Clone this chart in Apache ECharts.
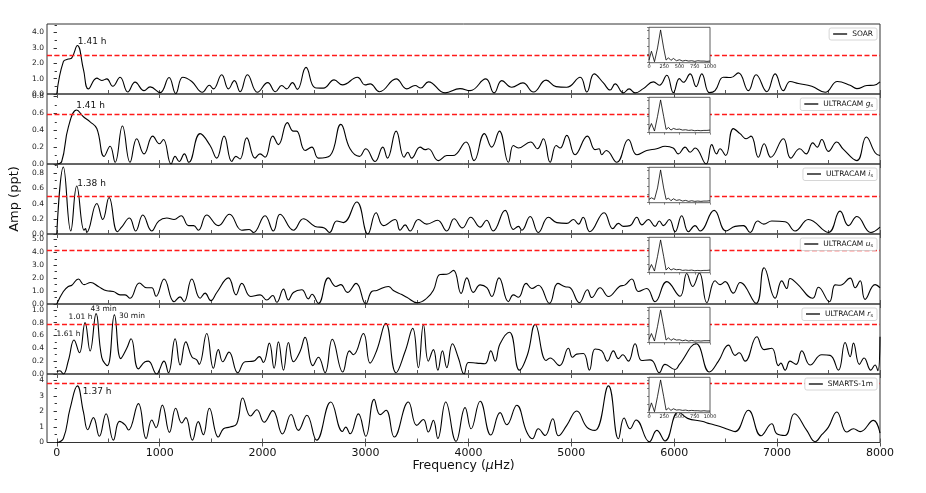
<!DOCTYPE html>
<html><head><meta charset="utf-8">
<script src="https://cdn.jsdelivr.net/npm/echarts@6/dist/echarts.min.js"></script>
<style>html,body{margin:0;padding:0;background:#fff}#c{width:926px;height:493px}</style>
</head><body><div id="c"></div>
<script>
// ---- data (frequency µHz, amplitude ppt) ----
const soar = [[0,0],[64,2.1],[113,2.27],[146,2.35],[200,3.15],[259,1.6],[307,0.33],[389,1.03],[437,0.88],[486,0.98],[544,0.5],[615,1.09],[690,0.13],[761,0.77],[848,0.22],[907,0.46],[1004,0.09],[1091,1.07],[1156,0.03],[1224,1.09],[1312,0.81],[1415,0.11],[1483,0.57],[1522,0.33],[1603,1.25],[1668,0.33],[1726,0.87],[1782,0.15],[1853,1.25],[1950,0.11],[2050,0.74],[2125,0.15],[2186,0.55],[2235,0.33],[2290,0.74],[2338,0.3],[2422,1.73],[2510,0.41],[2591,0.38],[2695,0.92],[2776,0.59],[2922,1.09],[2996,0.59],[3045,0.66],[3136,0.15],[3298,0.98],[3401,0.33],[3482,0.55],[3537,0.39],[3612,0.79],[3774,0.07],[3919,0.35],[4016,0.22],[4169,0.98],[4250,0.07],[4325,0.87],[4422,0.44],[4529,0.72],[4632,0.13],[4755,0.9],[4852,0.48],[4956,0.44],[5086,1.09],[5151,0.13],[5222,1.31],[5312,0.72],[5377,0.26],[5426,0.66],[5507,0.07],[5562,0.33],[5620,0.07],[5700,0.35],[5798,0.79],[5856,0.57],[5928,1.22],[5992,0.09],[6050,1.0],[6089,0.76],[6155,1.31],[6213,0.48],[6268,1.31],[6342,0.09],[6397,0.22],[6478,1.09],[6550,1.07],[6624,1.37],[6721,0.22],[6796,1.25],[6900,0.15],[6981,1.31],[7061,0.22],[7126,0.81],[7207,0.68],[7337,0.5],[7467,0.11],[7586,0.81],[7710,0.57],[7775,0.35],[7872,0.55],[7940,0.57],[8000,0.79]];
const ucamG = [[0,0],[48,0.03],[113,0.44],[194,0.64],[259,0.56],[324,0.5],[389,0.42],[460,0.09],[518,0.21],[567,0.02],[638,0.45],[712,0.02],[777,0.3],[848,0.12],[933,0.33],[997,0.24],[1036,0.29],[1111,0.0],[1150,0.09],[1189,0.03],[1240,0.12],[1283,0.02],[1393,0.36],[1490,0.22],[1554,0.07],[1626,0.33],[1701,0.03],[1740,0.09],[1780,0.06],[1846,0.31],[1927,0.07],[1975,0.12],[2024,0.08],[2099,0.33],[2154,0.23],[2241,0.49],[2299,0.39],[2330,0.39],[2413,0.16],[2478,0.2],[2543,0.07],[2656,0.1],[2760,0.47],[2850,0.18],[2941,0.09],[3003,0.18],[3093,0.03],[3168,0.2],[3213,0.07],[3298,0.39],[3375,0.08],[3411,0.14],[3448,0.07],[3531,0.2],[3580,0.17],[3610,0.18],[3709,0.04],[3790,0.1],[3850,0.1],[3978,0.26],[4055,0.04],[4156,0.36],[4227,0.2],[4301,0.39],[4389,0.02],[4437,0.22],[4486,0.19],[4605,0.26],[4670,0.18],[4729,0.3],[4794,0.02],[4853,0.22],[4892,0.19],[4956,0.34],[5037,0.11],[5157,0.33],[5231,0.17],[5270,0.18],[5295,0.11],[5340,0.16],[5442,0.02],[5555,0.29],[5636,0.11],[5733,0.16],[5830,0.18],[5911,0.21],[5990,0.19],[6041,0.12],[6106,0.2],[6155,0.14],[6203,0.19],[6310,0.0],[6365,0.23],[6412,0.12],[6445,0.18],[6500,0.1],[6575,0.42],[6640,0.36],[6700,0.3],[6747,0.33],[6818,0.08],[6874,0.24],[6939,0.08],[7061,0.3],[7132,0.07],[7220,0.18],[7282,0.12],[7347,0.25],[7390,0.2],[7434,0.29],[7499,0.15],[7580,0.26],[7640,0.18],[7775,0.04],[7867,0.32],[7955,0.13],[8000,0.1]];
const ucamI = [[0,0],[64,0.88],[136,0.04],[194,0.63],[265,0.05],[280,0.07],[291,0.02],[389,0.4],[447,0.19],[508,0.48],[589,0.03],[630,0.09],[706,0.21],[767,0.04],[836,0.25],[923,0.04],[990,0.17],[1069,0.21],[1140,0.19],[1208,0.24],[1281,0.11],[1330,0.11],[1376,0.05],[1457,0.25],[1570,0.11],[1678,0.26],[1797,0.05],[1870,0.06],[1911,0.02],[2024,0.24],[2105,0.04],[2170,0.26],[2300,0.05],[2397,0.2],[2510,0.1],[2600,0.08],[2650,0.02],[2721,0.17],[2785,0.15],[2915,0.42],[3023,0.0],[3103,0.28],[3174,0.11],[3288,0.19],[3336,0.05],[3385,0.12],[3433,0.04],[3514,0.19],[3595,0.13],[3700,0.18],[3790,0.04],[3861,0.2],[3942,0.08],[4023,0.22],[4114,0.09],[4176,0.18],[4240,0.04],[4357,0.31],[4438,0.06],[4486,0.1],[4519,0.05],[4600,0.23],[4680,0.02],[4778,0.22],[4859,0.15],[4956,0.14],[5021,0.19],[5070,0.13],[5115,0.22],[5180,0.03],[5319,0.28],[5403,0.07],[5458,0.14],[5507,0.1],[5571,0.11],[5636,0.22],[5685,0.12],[5749,0.19],[5814,0.1],[5856,0.17],[5895,0.11],[5953,0.19],[6009,0.03],[6073,0.24],[6138,0.03],[6203,0.11],[6252,0.04],[6388,0.31],[6504,0.04],[6592,0.1],[6673,0.11],[6738,0.02],[6811,0.17],[6870,0.13],[6948,0.17],[7078,0.16],[7175,0.04],[7304,0.19],[7498,0.02],[7612,0.3],[7694,0.11],[7775,0.23],[7911,0.02],[8000,0.09]];
const ucamU = [[0,0],[64,0.97],[113,1.36],[146,1.45],[210,1.94],[265,1.5],[330,1.66],[404,1.36],[486,1.02],[550,0.97],[615,0.71],[664,0.71],[712,0.45],[803,1.63],[875,1.26],[923,1.26],[965,0.6],[1043,1.94],[1140,0.18],[1198,0.55],[1237,0.18],[1312,1.94],[1393,0.45],[1441,0.84],[1497,0.26],[1555,0.89],[1668,2.02],[1742,0.71],[1798,1.6],[1885,0.58],[1976,0.71],[2040,0.31],[2099,0.66],[2138,0.13],[2203,1.15],[2251,0.31],[2299,0.89],[2381,1.1],[2445,0.4],[2480,0.75],[2543,0.05],[2640,2.02],[2714,1.36],[2760,1.5],[2824,0.9],[2909,1.6],[3003,0.0],[3061,0.97],[3110,1.05],[3223,1.36],[3271,1.05],[3353,0.73],[3401,0.52],[3504,0.1],[3596,0.45],[3660,1.07],[3725,2.28],[3790,2.3],[3855,2.6],[3929,0.82],[3985,2.02],[4049,0.9],[4114,1.48],[4179,1.26],[4227,0.58],[4298,2.02],[4389,0.18],[4437,0.71],[4486,0.52],[4561,1.6],[4616,1.2],[4680,1.45],[4788,0.05],[4869,1.6],[4940,1.34],[4982,1.3],[5079,0.1],[5157,1.1],[5199,0.5],[5280,1.26],[5361,0.58],[5468,1.36],[5523,1.48],[5588,1.94],[5652,0.97],[5733,1.2],[5814,0.18],[5928,1.73],[6057,0.6],[6122,2.36],[6180,1.36],[6245,2.4],[6317,0.1],[6397,1.8],[6446,1.5],[6495,1.73],[6575,0.84],[6641,1.66],[6796,0.05],[6874,2.81],[6981,0.45],[7045,1.79],[7094,1.2],[7126,1.97],[7191,1.6],[7347,0.45],[7402,1.3],[7508,0.18],[7564,1.48],[7612,1.45],[7710,2.0],[7759,1.26],[7807,1.8],[7855,0.36],[7952,1.5],[8000,1.26]];
const ucamR = [[0,0.04],[30,0.05],[64,0.0],[113,0.21],[168,0.53],[220,0.33],[275,0.8],[324,0.36],[382,0.94],[437,0.26],[492,0.13],[560,0.92],[622,0.24],[680,0.4],[722,0.55],[793,0.08],[858,0.19],[890,0.2],[972,0.0],[988,0.03],[1043,0.2],[1085,0.02],[1150,0.55],[1199,0.14],[1254,0.5],[1312,0.27],[1360,0.22],[1384,0.15],[1457,0.63],[1522,0.09],[1570,0.38],[1613,0.19],[1674,0.34],[1759,0.02],[1830,0.19],[1911,0.2],[1969,0.27],[2008,0.18],[2066,0.48],[2112,0.09],[2154,0.5],[2203,0.06],[2251,0.49],[2300,0.19],[2364,0.35],[2413,0.57],[2488,0.13],[2543,0.26],[2607,0.02],[2678,0.54],[2779,0.03],[2844,0.36],[2883,0.3],[2980,0.63],[3045,0.17],[3110,0.37],[3197,0.79],[3297,0.02],[3385,0.35],[3459,0.71],[3514,0.1],[3563,0.77],[3611,0.2],[3660,0.38],[3703,0.06],[3748,0.36],[3790,0.1],[3845,0.47],[3903,0.25],[3958,0.0],[4000,0.18],[4081,0.17],[4162,0.16],[4218,0.36],[4260,0.2],[4308,0.47],[4399,0.65],[4496,0.06],[4574,0.3],[4649,0.77],[4755,0.21],[4794,0.25],[4885,0.13],[4972,0.4],[5011,0.26],[5053,0.31],[5118,0.32],[5176,0.06],[5231,0.39],[5296,0.36],[5351,0.2],[5409,0.36],[5458,0.24],[5500,0.3],[5555,0.2],[5620,0.47],[5685,0.21],[5766,0.22],[5798,0.19],[5856,0.02],[5911,0.15],[6009,0.07],[6051,0.15],[6213,0.47],[6342,0.03],[6430,0.2],[6527,0.45],[6592,0.29],[6631,0.33],[6689,0.2],[6803,0.58],[6874,0.38],[6948,0.4],[7013,0.13],[7036,0.17],[7078,0.06],[7126,0.2],[7185,0.15],[7240,0.36],[7321,0.14],[7434,0.3],[7515,0.29],[7596,0.06],[7661,0.49],[7710,0.27],[7742,0.48],[7800,0.15],[7845,0.25],[7911,0.06],[7952,0.14],[7979,0.05],[8000,0.58]];
const smarts = [[0,0],[64,0.26],[129,2.17],[200,3.64],[259,1.96],[301,0.82],[356,1.6],[414,0.4],[479,1.85],[550,0.15],[609,1.36],[664,1.13],[697,0.8],[793,2.5],[868,0.26],[923,1.45],[965,0.95],[1026,2.4],[1095,0.65],[1156,2.2],[1215,1.25],[1254,1.6],[1318,0.15],[1375,1.34],[1424,0.5],[1483,2.2],[1570,0.35],[1620,0.88],[1684,0.99],[1749,1.2],[1807,2.86],[1883,1.7],[1944,2.1],[2015,1.3],[2099,2.05],[2193,0.55],[2277,1.8],[2348,0.78],[2430,1.75],[2525,0.15],[2663,2.6],[2776,0.71],[2808,0.99],[2850,0.56],[2931,1.84],[3003,0.4],[3084,2.77],[3142,1.79],[3200,2.07],[3280,0.35],[3417,2.6],[3498,1.1],[3563,1.48],[3611,0.67],[3660,1.42],[3703,0.26],[3780,2.6],[3880,0.08],[3968,2.24],[4026,0.88],[4114,2.65],[4218,0.48],[4308,1.92],[4373,1.14],[4470,2.39],[4567,0.67],[4622,0.24],[4680,0.88],[4746,0.45],[4820,1.53],[4875,0.43],[4956,1.1],[5053,2.02],[5151,0.99],[5231,0.78],[5361,3.64],[5458,0.24],[5513,1.57],[5571,0.88],[5630,1.45],[5759,0.05],[5831,0.78],[5911,0.1],[6041,1.96],[6130,1.55],[6268,1.36],[6349,1.2],[6446,1.03],[6520,0.85],[6592,0.7],[6721,2.07],[6844,0.43],[6948,1.2],[6997,0.56],[7078,0.45],[7168,1.85],[7288,0.78],[7370,0.05],[7434,0.5],[7499,0.99],[7580,1.96],[7677,0.67],[7742,0.88],[7807,0.7],[7936,1.42],[8000,0.6]];

// spectral windows (inset), frequency 0–1000 µHz, normalised amplitude
const winFreq = [0,40,90,140,190,240,280,320,360,400,450,500,550,600,650,700,750,800,850,900,950,1000];
const winSoar   = [0.08,0.35,0.03,0.45,1.0,0.45,0.08,0.15,0.07,0.13,0.06,0.09,0.05,0.07,0.05,0.06,0.04,0.06,0.05,0.05,0.04,0.05];
const winG      = [0.1,0.28,0.05,0.5,1.0,0.5,0.1,0.16,0.08,0.13,0.1,0.11,0.08,0.09,0.07,0.08,0.06,0.07,0.06,0.07,0.07,0.08];
const winI      = [0.1,0.15,0.1,0.45,1.0,0.45,0.1,0.14,0.06,0.12,0.07,0.09,0.05,0.07,0.04,0.06,0.04,0.05,0.04,0.05,0.05,0.06];
const winU      = [0.08,0.25,0.05,0.5,1.0,0.5,0.08,0.16,0.08,0.12,0.09,0.1,0.07,0.08,0.07,0.08,0.06,0.07,0.06,0.07,0.07,0.08];
const winR      = [0.1,0.28,0.05,0.5,1.0,0.5,0.08,0.15,0.07,0.12,0.08,0.09,0.06,0.08,0.05,0.07,0.05,0.06,0.05,0.06,0.06,0.06];
const winSmarts = [0.06,0.3,0.03,0.5,1.0,0.5,0.08,0.14,0.07,0.12,0.08,0.09,0.07,0.08,0.06,0.07,0.06,0.06,0.05,0.06,0.05,0.05];

const seriesNames = ['SOAR','ULTRACAM gs','ULTRACAM is','ULTRACAM us','ULTRACAM rs','SMARTS-1m'];
const thresholds = [2.5, 0.59, 0.49, 4.2, 0.78, 3.8];
const yMaxes = [4.55, 0.83, 0.92, 5.42, 1.09, 4.4];
const yIntervals = [1, 0.2, 0.2, 1, 0.2, 1];
const majorTicks = [0,1000,2000,3000,4000,5000,6000,7000,8000];
const allTicks = [0,500,1000,1500,2000,2500,3000,3500,4000,4500,5000,5500,6000,6500,7000,7500,8000];
const insetTicks = [0,250,500,750,1000];
// annotations: [frequency, amplitude, text]
const annotSoar = [[200,3.15,'1.41 h']];
const annotG = [[194,0.64,'1.41 h']];
const annotI = [[194,0.63,'1.38 h']];
const annotU = [];
const annotR = [[168,0.53,'1.61 h'],[275,0.8,'1.01 h'],[382,0.94,'43 min'],[560,0.92,'30 min']];
const annotSmarts = [[200,3.64,'1.37 h']];

// ---- layout / style ----
const mains = [soar, ucamG, ucamI, ucamU, ucamR, smarts];
const wins = [winSoar, winG, winI, winU, winR, winSmarts];
const annots = [annotSoar, annotG, annotI, annotU, annotR, annotSmarts];
const annotOffsets = [[[1,-3]],[[0,-4]],[[1,-2]],[],[[-17,-5],[-16,-5.5],[-5,-4],[5,2]],[[6,6]]];
const annotSizes = [9,9,9,9,7.5,9];
const tops = [24, 94, 164, 234, 304, 374];
const heights = [70, 70, 70, 70, 70, 68.5];
const minorOn = [true,false,false,true,false,true];
const decimals = [1,1,1,1,1,0];
const legendText = {
  'SOAR':'SOAR',
  'ULTRACAM gs':'ULTRACAM {i|g}{s|s}',
  'ULTRACAM is':'ULTRACAM {i|i}{s|s}',
  'ULTRACAM us':'ULTRACAM {i|u}{s|s}',
  'ULTRACAM rs':'ULTRACAM {i|r}{s|s}',
  'SMARTS-1m':'SMARTS-1m'
};
const FONT = 'DejaVu Sans';
const AX = '#333';
const plain = v => String(Math.round(v));

const grid = [], xAxis = [], yAxis = [], series = [], legend = [];
for (let i = 0; i < 6; i++) {
  grid.push({left:47, right:46, top:tops[i], height:heights[i], show:true, borderColor:AX, borderWidth:1, backgroundColor:'transparent'});
}
for (let i = 0; i < 6; i++) {
  grid.push({left:649, width:61, top:tops[i]+3.3, height:35.4, show:true, backgroundColor:'#fff', borderColor:AX, borderWidth:0.8, z:20});
}
for (let i = 0; i < 6; i++) {
  xAxis.push({gridIndex:i, type:'value', min:-95, max:8000, position:'bottom',
    axisLine:{show:false}, splitLine:{show:false},
    axisTick:{show:true, inside:true, length:4, customValues:allTicks, lineStyle:{color:'#555', width:1}},
    axisLabel:{show:i===5, customValues:majorTicks, formatter:plain, fontSize:11, margin:5, color:'#111', fontFamily:FONT},
    name: i===5 ? 'Frequency ({mu|μ}Hz)' : '', nameLocation:'middle', nameGap:15,
    nameTextStyle:{fontSize:12.5, color:'#111', fontFamily:FONT, rich:{mu:{fontStyle:'italic', fontSize:12.5, fontFamily:FONT, color:'#111'}}}
  });
  xAxis.push({gridIndex:i, type:'value', min:-95, max:8000, position:'top',
    axisLine:{show:false}, splitLine:{show:false},
    axisTick:{show:true, inside:true, length:4, customValues:majorTicks, lineStyle:{color:'#555', width:1}},
    axisLabel:{show:false}
  });
}
for (let i = 0; i < 6; i++) {
  const step = yIntervals[i], dec = decimals[i];
  const nTicks = Math.floor(yMaxes[i] / step + 1e-9);
  const yTicks = Array.from({length:nTicks+1}, (_, k) => +(k*step).toFixed(6));
  const fmt = v => v.toFixed(dec);
  yAxis.push({gridIndex:i, type:'value', min:0, max:yMaxes[i], interval:step, position:'left',
    axisLine:{show:false}, splitLine:{show:false},
    axisTick:{show:true, inside:false, length:3, customValues:yTicks, lineStyle:{color:AX}},
    minorTick:{show:minorOn[i], splitNumber:2, length:2, lineStyle:{color:AX}},
    axisLabel:{fontSize:7.5, margin:3, color:'#222', fontFamily:FONT, formatter:fmt, customValues:yTicks},
    name: i===2 ? 'Amp (ppt)' : '', nameLocation:'middle', nameGap:12,
    nameTextStyle:{fontSize:13, color:'#111', fontFamily:FONT}
  });
  yAxis.push({gridIndex:i, type:'value', min:0, max:yMaxes[i], interval:step, position:'right',
    axisLine:{show:false}, splitLine:{show:false},
    axisTick:{show:true, inside:true, length:3, customValues:yTicks, lineStyle:{color:AX}},
    minorTick:{show:true, splitNumber:2, length:2, lineStyle:{color:AX}},
    axisLabel:{show:false}
  });
}
for (let i = 0; i < 6; i++) {
  xAxis.push({gridIndex:6+i, type:'value', min:0, max:1000, interval:250, z:21,
    axisLine:{show:false}, splitLine:{show:false},
    axisTick:{show:true, length:2, customValues:insetTicks, lineStyle:{color:AX, width:0.6}},
    axisLabel:{show:i===0||i===5, customValues:insetTicks, formatter:plain, fontSize:5, margin:2, color:'#222', fontFamily:FONT}
  });
  yAxis.push({gridIndex:6+i, type:'value', min:0, max:1.08, interval:0.25, z:21,
    axisLine:{show:false}, splitLine:{show:false},
    axisTick:{show:true, length:2, lineStyle:{color:AX, width:0.6}},
    axisLabel:{show:false}
  });
}
for (let i = 0; i < 6; i++) {
  const mp = annots[i].map((a, k) => ({
    coord:[a[0], a[1]],
    label:{show:true, formatter:a[2], position:annotOffsets[i][k], align:'left', verticalAlign:'middle',
      fontSize:annotSizes[i], color:'#111', fontFamily:FONT}
  }));
  series.push({
    name:seriesNames[i], type:'line', xAxisIndex:2*i, yAxisIndex:2*i,
    data:mains[i], smooth:0.45, showSymbol:false, symbol:'none', silent:true,
    lineStyle:{color:'#000', width:1.1}, itemStyle:{color:'#000'}, z:2,
    markLine:{silent:true, symbol:['none','none'], label:{show:false},
      lineStyle:{color:'#ff1a1a', type:[5,2.5], width:1.4},
      data:[{yAxis:thresholds[i]}]},
    markPoint:{symbol:'circle', symbolSize:1, itemStyle:{color:'rgba(0,0,0,0)'}, silent:true, data:mp}
  });
  legend.push({
    data:[seriesNames[i]], right:49, top:tops[i]+4, orient:'horizontal',
    padding:[2,4,2,4], itemWidth:14, itemHeight:1.3, icon:'rect', selectedMode:false,
    backgroundColor:'#fff', borderColor:'#ccc', borderWidth:0.8, borderRadius:2, z:30,
    formatter: n => legendText[n],
    textStyle:{fontSize:7.5, color:'#111', fontFamily:FONT,
      rich:{i:{fontStyle:'italic', fontSize:7.5, fontFamily:FONT, color:'#111'},
            s:{fontSize:5, fontFamily:FONT, color:'#111', padding:[4,0,0,0]}}}
  });
}
for (let i = 0; i < 6; i++) {
  series.push({
    name:'window'+i, type:'line', xAxisIndex:12+i, yAxisIndex:12+i,
    data:winFreq.map((f, k) => [f, wins[i][k]]), smooth:false, showSymbol:false, symbol:'none', silent:true,
    lineStyle:{color:'#000', width:0.8}, z:22
  });
}

const chart = echarts.init(document.getElementById('c'), null, {renderer:'canvas'});
chart.setOption({animation:false, backgroundColor:'#fff', grid, xAxis, yAxis, series, legend});
</script>
</body></html>
